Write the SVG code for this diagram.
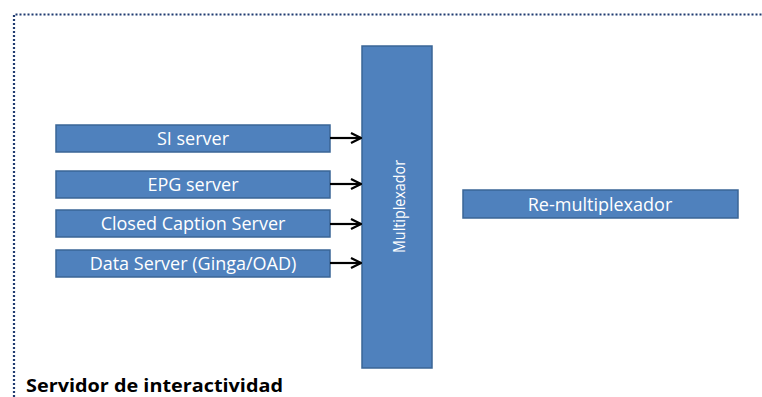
<svg xmlns="http://www.w3.org/2000/svg" width="762" height="397" viewBox="0 0 762 397">
<defs>
<style>
.box{fill:#4F81BD;stroke:#3A6596;stroke-width:1.5}
.lbl{font-family:"Open Sans","Liberation Sans",sans-serif;font-size:18px;fill:#FFFFFF;text-anchor:middle}
.conn{stroke:#000;stroke-width:2.2;fill:none}
.border{stroke:#1F3A70;stroke-width:2.2;stroke-dasharray:2 2;fill:none}
</style>
<marker id="arr" viewBox="0 0 12 12" refX="11" refY="6" markerWidth="12" markerHeight="12" markerUnits="userSpaceOnUse" orient="auto">
<path d="M1,1 L11,6 L1,11" fill="none" stroke="#000" stroke-width="2.2"/>
</marker>
</defs>
<rect width="762" height="397" fill="#FFFFFF"/>
<path class="border" d="M14,397 L14,14.5 L762,14.5"/>
<g id="si-server"><rect class="box" x="56" y="125" width="274" height="27"/><text class="lbl" x="193" y="144.5">SI server</text></g>
<g id="epg-server"><rect class="box" x="56" y="171" width="274" height="27"/><text class="lbl" x="193" y="190.5">EPG server</text></g>
<g id="cc-server"><rect class="box" x="56" y="210" width="274" height="27"/><text class="lbl" x="193" y="229.5">Closed Caption Server</text></g>
<g id="data-server"><rect class="box" x="56" y="250" width="274" height="27"/><text class="lbl" x="193" y="269.5">Data Server (Ginga/OAD)</text></g>
<g id="multiplexador"><rect class="box" x="362" y="46" width="70" height="322"/><text class="lbl" transform="translate(404.5,206.5) rotate(-90)" x="0" y="0" style="font-size:16.5px" textLength="93" lengthAdjust="spacingAndGlyphs">Multiplexador</text></g>
<g id="re-multiplexador"><rect class="box" x="463" y="190" width="275" height="28"/><text class="lbl" x="600" y="210.5">Re-multiplexador</text></g>
<g id="connectors">
<line class="conn" x1="330" y1="138" x2="361" y2="138" marker-end="url(#arr)"/>
<line class="conn" x1="330" y1="184" x2="361" y2="184" marker-end="url(#arr)"/>
<line class="conn" x1="330" y1="224" x2="361" y2="224" marker-end="url(#arr)"/>
<line class="conn" x1="330" y1="263" x2="361" y2="263" marker-end="url(#arr)"/>
</g>
<text id="title" x="26" y="392" font-family="'Open Sans','Liberation Sans',sans-serif" font-weight="bold" font-size="17" fill="#000" textLength="257" lengthAdjust="spacingAndGlyphs">Servidor de interactividad</text>
</svg>
